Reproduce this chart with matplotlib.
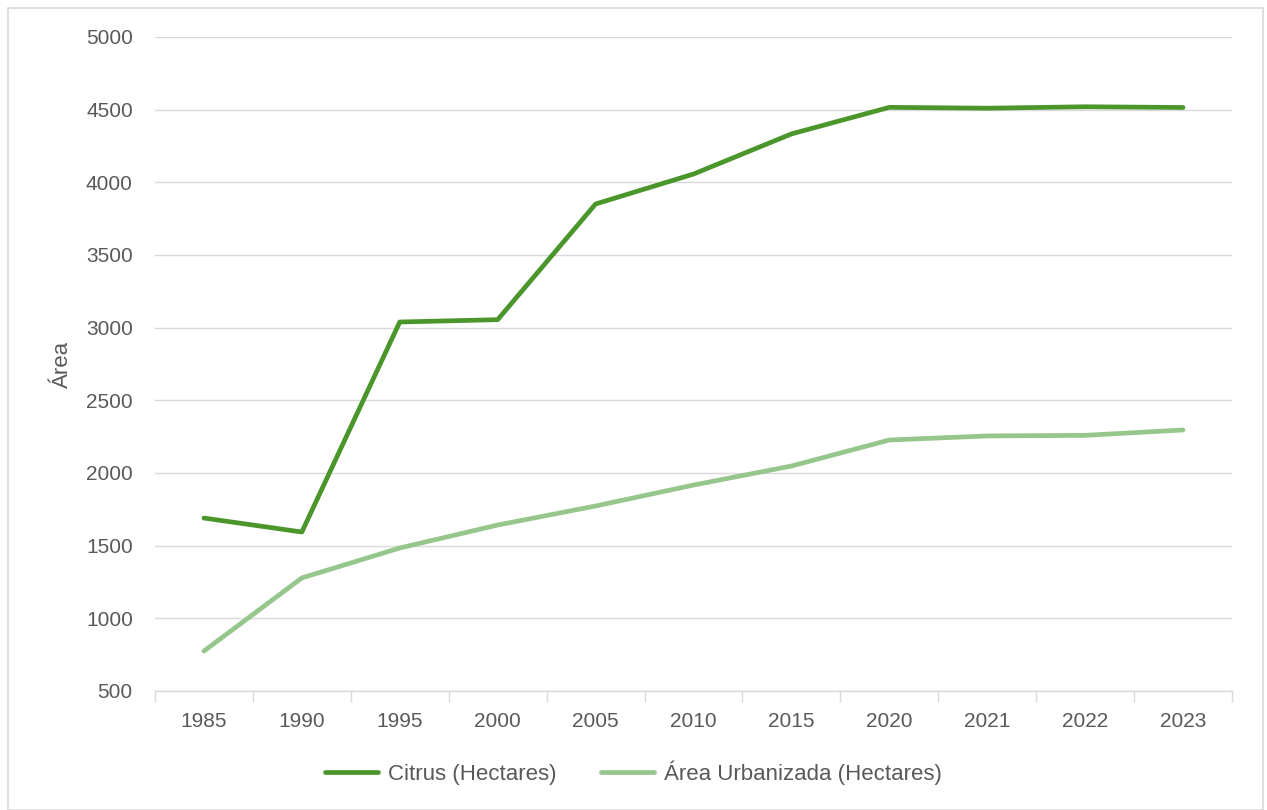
import matplotlib.pyplot as plt
import numpy as np
from matplotlib.patches import Rectangle

plt.rcParams['font.family'] = ['Liberation Sans', 'DejaVu Sans']

anos = ['1985', '1990', '1995', '2000', '2005', '2010', '2015', '2020', '2021', '2022', '2023']
citrus = [1690, 1594, 3039, 3055, 3851, 4057, 4333, 4516, 4510, 4520, 4515]
urbana = [775, 1278, 1484, 1642, 1773, 1917, 2048, 2227, 2255, 2259, 2296]

cor_citrus = '#4A962A'
cor_urbana = '#95C68B'
cinza = '#595959'

fig = plt.figure(figsize=(12.67, 8.1), dpi=100)
ax = fig.add_axes([155 / 1267, 1 - 691 / 810, (1232 - 155) / 1267, (691 - 37) / 810])

x = np.arange(len(anos))
ax.plot(x, citrus, color=cor_citrus, lw=3.4, solid_capstyle='round', solid_joinstyle='round',
        label='Citrus (Hectares)')
ax.plot(x, urbana, color=cor_urbana, lw=3.4, solid_capstyle='round', solid_joinstyle='round',
        label='Área Urbanizada (Hectares)')

ax.set_xlim(-0.5, len(anos) - 0.5)
ax.set_ylim(500, 5000)
ax.set_yticks(range(500, 5001, 500))
ax.set_xticks(x)
ax.set_xticklabels(anos)
ax.set_xticks(np.arange(-0.5, len(anos), 1), minor=True)
ax.tick_params(axis='x', which='major', length=0, pad=15, labelsize=15, labelcolor=cinza)
ax.tick_params(axis='x', which='minor', length=8, color='#D9D9D9', width=1)
ax.tick_params(axis='y', length=0, pad=16, labelsize=15, labelcolor=cinza)

ax.grid(axis='y', color='#D9D9D9', lw=1)
ax.set_axisbelow(True)
for s in ['top', 'right', 'left']:
    ax.spines[s].set_visible(False)
ax.spines['bottom'].set_color('#D9D9D9')
ax.spines['bottom'].set_linewidth(1)

ax.set_ylabel('Área', fontsize=16, color=cinza)
ax.yaxis.set_label_coords(-0.076, 0.5)

leg = fig.legend(loc='center', bbox_to_anchor=(0.5, 1 - 773 / 810), ncol=2, frameon=False,
                 fontsize=16, handlelength=2.4, columnspacing=2.0, handletextpad=0.45)
for t in leg.get_texts():
    t.set_color(cinza)

# borda do grafico
fig.patches.append(Rectangle((8 / 1267, 0), 1 - 8 / 1267 - 4 / 1267, 1 - 8 / 810,
                             transform=fig.transFigure, fill=False, edgecolor='#D9D9D9', lw=1.2))

fig.savefig('out.png', dpi=100)
